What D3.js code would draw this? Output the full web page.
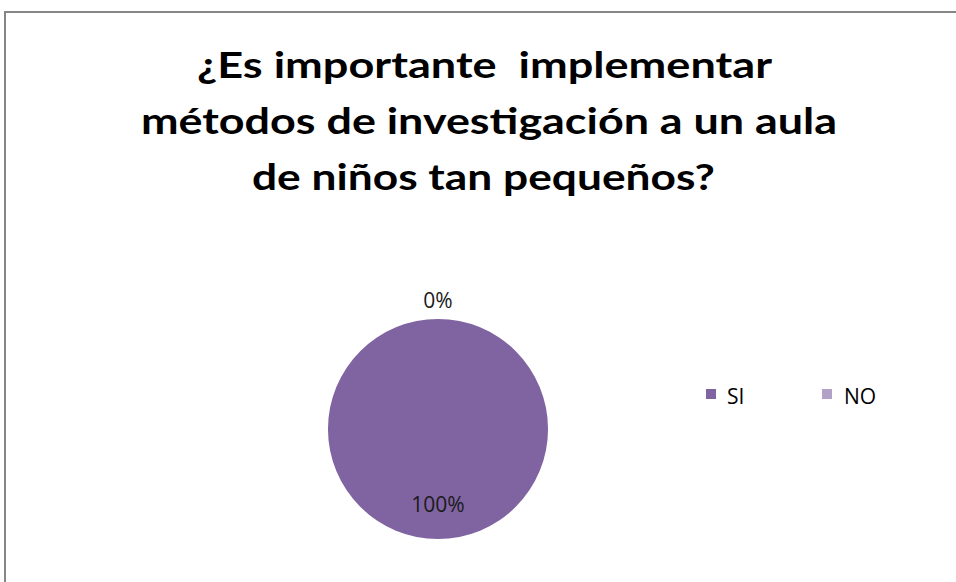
<!DOCTYPE html>
<html>
<head>
<meta charset="utf-8">
<script src="https://cdn.jsdelivr.net/npm/d3@7/dist/d3.min.js"></script>
<style>
  html, body { margin: 0; padding: 0; background: #fff; }
  svg { display: block; }
</style>
</head>
<body>
<svg id="chart" width="956" height="582"></svg>
<script>
// ---- data ----
const categories = ["SI", "NO"];
const values = [100, 0];
const percentLabels = ["100%", "0%"];
const titleLines = ["¿Es importante  implementar", "métodos de investigación a un aula", "de niños tan pequeños?"];
const colors = ["#8064A2", "#B3A2C7"];

const svg = d3.select("#chart");
const font = "Lato, 'Open Sans', sans-serif";

// border (chart area frame, cut off on right and bottom)
svg.append("rect")
  .attr("x", 5).attr("y", 12)
  .attr("width", 1000).attr("height", 1000)
  .attr("fill", "none")
  .attr("stroke", "#868686")
  .attr("stroke-width", 2);

// title
const titleLayout = [
  { x0: 197, x1: 772, y: 78 },
  { x0: 141, x1: 837, y: 134 },
  { x0: 252, x1: 715, y: 190 }
];
svg.append("g").selectAll("text")
  .data(titleLines)
  .join("text")
  .attr("x", (d, i) => titleLayout[i].x0)
  .attr("y", (d, i) => titleLayout[i].y)
  .attr("text-anchor", "start")
  .attr("textLength", (d, i) => titleLayout[i].x1 - titleLayout[i].x0)
  .attr("lengthAdjust", "spacingAndGlyphs")
  .style("font-family", font)
  .style("font-weight", "bold")
  .style("font-size", "36px")
  .style("white-space", "pre")
  .attr("fill", "#000")
  .text(d => d);

// pie
const cx = 438, cy = 429, r = 110;
const color = d3.scaleOrdinal().domain(categories).range(colors);
const data = categories.map((c, i) => ({ cat: c, value: values[i], label: percentLabels[i] }));
const pie = d3.pie().value(d => d.value).sort(null);
const arcs = pie(data);
const arc = d3.arc().innerRadius(0).outerRadius(r);

const g = svg.append("g").attr("transform", `translate(${cx},${cy})`);
g.selectAll("path")
  .data(arcs)
  .join("path")
  .attr("d", arc)
  .attr("fill", d => color(d.data.cat));

// labels: 100% inside near bottom, 0% outside at top
const outLabelArc = d3.arc().innerRadius(r + 19).outerRadius(r + 19);
g.selectAll("text.lbl")
  .data(arcs)
  .join("text")
  .attr("class", "lbl")
  .attr("x", d => d.data.value > 0 ? 0 : outLabelArc.centroid(d)[0])
  .attr("y", d => d.data.value > 0 ? 83 : outLabelArc.centroid(d)[1] + 8)
  .attr("text-anchor", "middle")
  .style("font-family", "'Open Sans', sans-serif")
  .style("font-size", "21px")
  .attr("fill", "#1a1a1a")
  .text(d => d.data.label);

// legend
const legendX = [706, 822];
const leg = svg.append("g").selectAll("g")
  .data(categories)
  .join("g")
  .attr("transform", (d, i) => `translate(${legendX[i]},389)`);
leg.append("rect")
  .attr("width", 10).attr("height", 10)
  .attr("fill", d => color(d));
leg.append("text")
  .attr("x", (d, i) => i === 0 ? 21 : 22)
  .attr("y", 15)
  .style("font-family", "'Open Sans', sans-serif")
  .style("font-size", "21px")
  .attr("fill", "#000")
  .text(d => d);
</script>
</body>
</html>
